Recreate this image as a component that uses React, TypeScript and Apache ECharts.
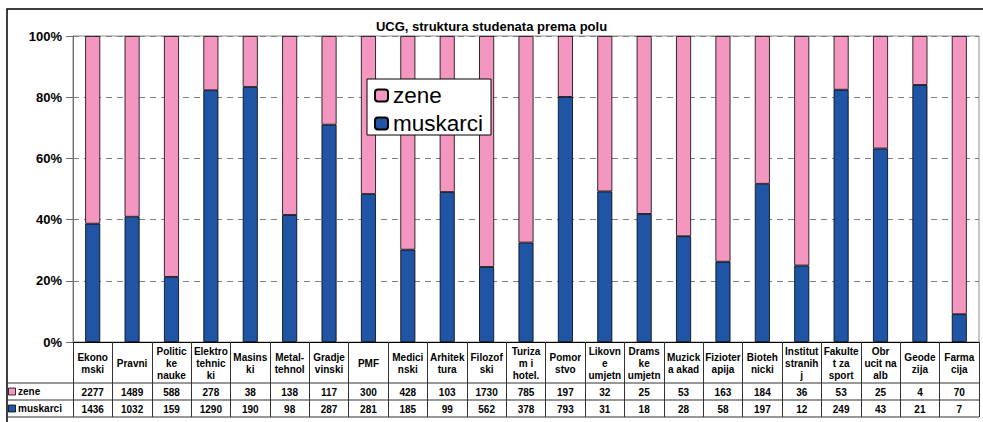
import React, { useEffect, useRef } from "react";
import * as echarts from "echarts";

const categories = [
  "Ekono\nmski", "Pravni", "Politic\nke\nnauke", "Elektro\ntehnic\nki", "Masins\nki",
  "Metal-\ntehnol", "Gradje\nvinski", "PMF", "Medici\nnski", "Arhitek\ntura",
  "Filozof\nski", "Turiza\nm i\nhotel.", "Pomor\nstvo", "Likovn\ne\numjetn",
  "Drams\nke\numjetn", "Muzick\na akad", "Fizioter\napija", "Bioteh\nnicki",
  "Institut\nstranih\nj", "Fakulte\nt za\nsport", "Obr\nucit na\nalb", "Geode\nzija", "Farma\ncija",
];
const zene = [2277, 1489, 588, 278, 38, 138, 117, 300, 428, 103, 1730, 785, 197, 32, 25, 53, 163, 184, 36, 53, 25, 4, 70];
const muskarci = [1436, 1032, 159, 1290, 190, 98, 287, 281, 185, 99, 562, 378, 793, 31, 18, 28, 58, 197, 12, 249, 43, 21, 7];
const seriesNames = ["zene", "muskarci"];
const title = "UCG, struktura studenata prema polu";

const PINK = "#f397c0";
const BLUE = "#1f55a4";
const FONT = 'Arial, "Liberation Sans", sans-serif';

const GRID_L = 73;
const GRID_R = 979;
const GRID_T = 36;
const GRID_B = 342;
const ROW1 = 383;
const ROW2 = 400;
const ROW3 = 417;

export default function App() {
  const ref = useRef<HTMLDivElement>(null);
  useEffect(() => {
    document.body.style.margin = "0";
    const chart = echarts.init(ref.current!, null, { renderer: "svg" });
    const totals = zene.map((z, i) => z + muskarci[i]);
    const mPct = muskarci.map((m, i) => (m / totals[i]) * 100);
    const zPct = zene.map((z, i) => (z / totals[i]) * 100);
    const numAxis = (vals: number[], margin: number) => ({
      type: "category",
      data: categories,
      position: "bottom",
      gridIndex: 0,
      axisLine: { show: false },
      axisTick: { show: false },
      splitLine: { show: false },
      axisLabel: {
        interval: 0,
        margin,
        verticalAlign: "middle",
        fontFamily: FONT,
        fontWeight: "bold",
        fontSize: 10,
        color: "#000",
        formatter: (_v: string, i: number) => String(vals[i]),
      },
    });
    chart.setOption({
      animation: false,
      title: {
        text: title,
        left: "center",
        top: 15,
        textStyle: { fontFamily: FONT, fontWeight: "bold", fontSize: 13, color: "#000" },
      },
      legend: {
        data: seriesNames,
        orient: "vertical",
        left: 367,
        top: 79,
        padding: [5, 8, 0, 7],
        itemGap: 5,
        itemWidth: 13,
        itemHeight: 12,
        backgroundColor: "#fff",
        borderColor: "#000",
        borderWidth: 1,
        textStyle: { fontFamily: FONT, fontSize: 22.5, color: "#000" },
      },
      grid: {
        left: GRID_L,
        right: 983 - GRID_R,
        top: GRID_T,
        bottom: 422 - GRID_B,
        show: true,
        borderColor: "#8c8c8c",
        borderWidth: 1,
      },
      xAxis: [
        {
          type: "category",
          data: categories,
          axisLine: { show: true, lineStyle: { color: "#000", width: 1 } },
          axisTick: { show: true, interval: 0, length: ROW3 - GRID_B, lineStyle: { color: "#333" } },
          axisLabel: {
            interval: 0,
            margin: 21,
            verticalAlign: "middle",
            fontFamily: FONT,
            fontWeight: "bold",
            fontSize: 10,
            lineHeight: 12,
            color: "#000",
          },
        },
        numAxis(zene, ROW1 - GRID_B + 9),
        numAxis(muskarci, ROW2 - GRID_B + 9),
      ],
      yAxis: {
        type: "value",
        min: 0,
        max: 100,
        interval: 20,
        axisLine: { show: true, lineStyle: { color: "#6e6e6e" } },
        axisTick: { show: true, length: 7, lineStyle: { color: "#6e6e6e" } },
        axisLabel: {
          margin: 11,
          formatter: "{value}%",
          fontFamily: FONT,
          fontWeight: "bold",
          fontSize: 13,
          color: "#000",
        },
        splitLine: { show: true, lineStyle: { color: "#808080", type: [6, 5], width: 1 } },
      },
      series: [
        {
          name: "muskarci",
          type: "bar",
          stack: "total",
          barWidth: 15,
          data: mPct,
          itemStyle: { color: BLUE, borderColor: "#000", borderWidth: 0.8 },
        },
        {
          name: "zene",
          type: "bar",
          stack: "total",
          barWidth: 15,
          data: zPct,
          itemStyle: { color: PINK, borderColor: "#000", borderWidth: 0.8 },
        },
      ],
      graphic: [
        { type: "rect", shape: { x: 7, y: 9, width: 1000, height: 440 }, style: { fill: "none", stroke: "#000", lineWidth: 1.5 }, silent: true },
        { type: "line", shape: { x1: 7, y1: ROW1, x2: GRID_R, y2: ROW1 }, style: { stroke: "#333", lineWidth: 1 } },
        { type: "line", shape: { x1: 7, y1: ROW2, x2: GRID_R, y2: ROW2 }, style: { stroke: "#333", lineWidth: 1 } },
        { type: "line", shape: { x1: 7, y1: ROW3, x2: GRID_R, y2: ROW3 }, style: { stroke: "#333", lineWidth: 1 } },
        { type: "rect", shape: { x: 8.5, y: (ROW1 + ROW2) / 2 - 3.5, width: 7, height: 7 }, style: { fill: PINK, stroke: "#000", lineWidth: 0.8 } },
        { type: "rect", shape: { x: 8.5, y: (ROW2 + ROW3) / 2 - 3.5, width: 7, height: 7 }, style: { fill: BLUE, stroke: "#000", lineWidth: 0.8 } },
        {
          type: "text",
          x: 18,
          y: (ROW1 + ROW2) / 2,
          style: { text: seriesNames[0], fontFamily: FONT, fontWeight: "bold", fontSize: 10, fill: "#000", verticalAlign: "middle" },
        },
        {
          type: "text",
          x: 18,
          y: (ROW2 + ROW3) / 2,
          style: { text: seriesNames[1], fontFamily: FONT, fontWeight: "bold", fontSize: 10, fill: "#000", verticalAlign: "middle" },
        },
      ],
    });
    return () => chart.dispose();
  }, []);
  return <div ref={ref} style={{ width: 983, height: 422 }} />;
}
